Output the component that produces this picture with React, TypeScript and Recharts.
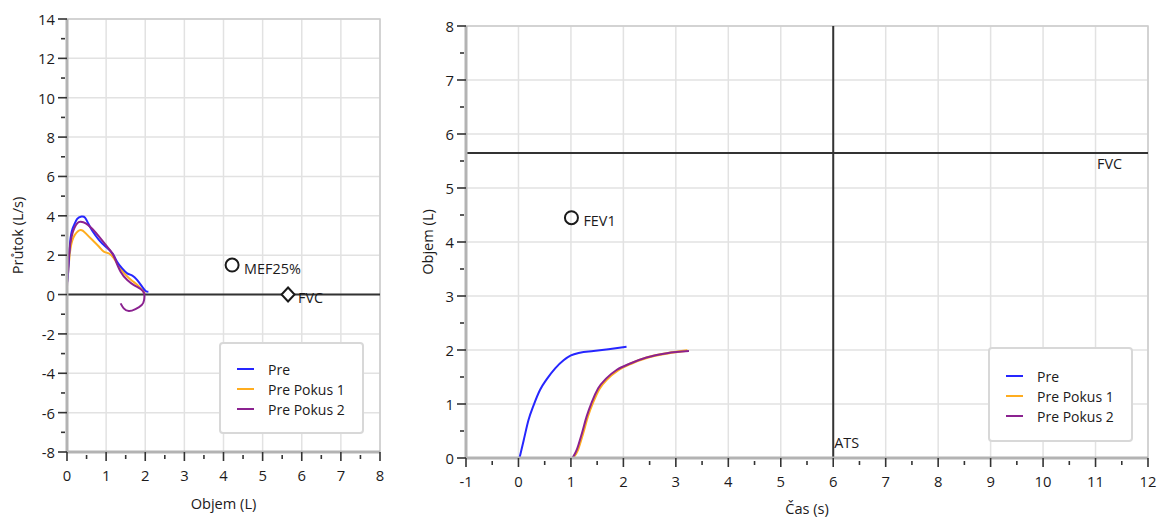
import React from 'react';
import {
  ComposedChart,
  Line,
  Scatter,
  XAxis,
  YAxis,
  CartesianGrid,
  ReferenceLine,
  ReferenceArea,
  Legend,
} from 'recharts';

const FONT = '"Open Sans", "Noto Sans", sans-serif';
const TEXT = '#1c1a1b';
const AXIS = '#b3b3b3';
const GRID = '#e2e2e2';
const TICK = '#333333';

// ---- series ----
const seriesNames = ['Pre', 'Pre Pokus 1', 'Pre Pokus 2'];
const seriesColors = ['#2626ff', '#ffad1f', '#8b2290'];

// flow-volume (left)
const flowPre = [
  { x: 0, y: 0.6 }, { x: 0.03, y: 1.16 }, { x: 0.09, y: 2.85 }, { x: 0.18, y: 3.53 },
  { x: 0.26, y: 3.84 }, { x: 0.37, y: 3.96 }, { x: 0.46, y: 3.91 }, { x: 0.54, y: 3.62 },
  { x: 0.65, y: 3.23 }, { x: 0.82, y: 2.77 }, { x: 0.99, y: 2.43 }, { x: 1.16, y: 2.09 },
  { x: 1.28, y: 1.67 }, { x: 1.41, y: 1.33 }, { x: 1.54, y: 1.08 }, { x: 1.67, y: 0.96 },
  { x: 1.79, y: 0.74 }, { x: 1.92, y: 0.4 }, { x: 2.01, y: 0.18 }, { x: 2.08, y: 0.14 },
];
const flowPokus1 = [
  { x: 0, y: 0.6 }, { x: 0.03, y: 1.16 }, { x: 0.09, y: 2.35 }, { x: 0.2, y: 3.03 },
  { x: 0.35, y: 3.28 }, { x: 0.48, y: 3.11 }, { x: 0.65, y: 2.77 }, { x: 0.82, y: 2.43 },
  { x: 0.94, y: 2.18 }, { x: 1.07, y: 2.09 }, { x: 1.2, y: 1.84 }, { x: 1.33, y: 1.42 },
  { x: 1.5, y: 1.0 }, { x: 1.67, y: 0.69 }, { x: 1.82, y: 0.45 }, { x: 1.94, y: 0.18 },
  { x: 1.99, y: 0.06 },
];
const flowPokus2 = [
  { x: 0, y: 0.4 }, { x: 0.05, y: 2.0 }, { x: 0.14, y: 3.11 }, { x: 0.26, y: 3.62 },
  { x: 0.35, y: 3.7 }, { x: 0.48, y: 3.62 }, { x: 0.65, y: 3.33 }, { x: 0.82, y: 2.94 },
  { x: 0.99, y: 2.52 }, { x: 1.16, y: 2.09 }, { x: 1.24, y: 1.75 }, { x: 1.37, y: 1.16 },
  { x: 1.54, y: 0.74 }, { x: 1.71, y: 0.48 }, { x: 1.88, y: 0.28 }, { x: 1.97, y: 0.06 },
  { x: 1.97, y: -0.28 }, { x: 1.91, y: -0.53 }, { x: 1.75, y: -0.74 }, { x: 1.58, y: -0.84 },
  { x: 1.45, y: -0.7 }, { x: 1.37, y: -0.45 },
];

// volume-time (right)
const volPre = [
  { x: 0.02, y: 0 }, { x: 0.1, y: 0.33 }, { x: 0.19, y: 0.7 }, { x: 0.29, y: 0.98 },
  { x: 0.41, y: 1.26 }, { x: 0.54, y: 1.46 }, { x: 0.7, y: 1.66 }, { x: 0.86, y: 1.81 },
  { x: 1.0, y: 1.9 }, { x: 1.17, y: 1.95 }, { x: 1.43, y: 1.98 }, { x: 1.75, y: 2.02 },
  { x: 2.06, y: 2.06 },
];
const volPokus1 = [
  { x: 1.04, y: 0 }, { x: 1.13, y: 0.15 }, { x: 1.23, y: 0.46 }, { x: 1.32, y: 0.77 },
  { x: 1.42, y: 1.03 }, { x: 1.54, y: 1.28 }, { x: 1.7, y: 1.47 }, { x: 1.89, y: 1.62 },
  { x: 2.15, y: 1.75 }, { x: 2.46, y: 1.86 }, { x: 2.85, y: 1.94 }, { x: 3.22, y: 1.99 },
];
const volPokus2 = [
  { x: 1.03, y: 0 }, { x: 1.11, y: 0.15 }, { x: 1.21, y: 0.46 }, { x: 1.3, y: 0.77 },
  { x: 1.4, y: 1.04 }, { x: 1.52, y: 1.29 }, { x: 1.68, y: 1.48 }, { x: 1.87, y: 1.63 },
  { x: 2.13, y: 1.75 }, { x: 2.44, y: 1.86 }, { x: 2.83, y: 1.94 }, { x: 3.25, y: 1.98 },
];

// markers
const flowMarkers = [
  { x: 4.22, y: 1.5, label: 'MEF25%', kind: 'circle' },
  { x: 5.65, y: 0, label: 'FVC', kind: 'diamond' },
];
const volMarkers = [{ x: 1.01, y: 4.45, label: 'FEV1', kind: 'circle' }];
const flowZeroLine = 0;
const fvcVolume = 5.65;
const atsTime = 6;

// ---- ticks ----
const flowXDomain = [0, 8];
const flowYDomain = [-8, 14];
const flowXTicks = [0, 0.5, 1, 1.5, 2, 2.5, 3, 3.5, 4, 4.5, 5, 5.5, 6, 6.5, 7, 7.5, 8];
const flowXMajor = [0, 1, 2, 3, 4, 5, 6, 7, 8];
const flowYTicks = [-8, -7, -6, -5, -4, -3, -2, -1, 0, 1, 2, 3, 4, 5, 6, 7, 8, 9, 10, 11, 12, 13, 14];
const flowYMajor = [-8, -6, -4, -2, 0, 2, 4, 6, 8, 10, 12, 14];

const timeXDomain = [-1, 12];
const volYDomain = [0, 8];
const timeXTicks = [-1, -0.5, 0, 0.5, 1, 1.5, 2, 2.5, 3, 3.5, 4, 4.5, 5, 5.5, 6, 6.5, 7, 7.5, 8, 8.5, 9, 9.5, 10, 10.5, 11, 11.5, 12];
const timeXMajor = [-1, 0, 1, 2, 3, 4, 5, 6, 7, 8, 9, 10, 11, 12];
const volYTicks = [0, 0.5, 1, 1.5, 2, 2.5, 3, 3.5, 4, 4.5, 5, 5.5, 6, 6.5, 7, 7.5, 8];
const volYMajor = [0, 1, 2, 3, 4, 5, 6, 7, 8];

const TICK_FONT = 14.8;
const TITLE_FONT = 14.6;
const LABEL_FONT = 14.4;

// ---- helpers ----
const makeXTick = (major: number[]) => (props: any) => {
  const { x, y, payload } = props;
  const isMajor = major.includes(payload.value);
  return (
    <g>
      <line x1={x} x2={x} y1={y + (isMajor ? 0 : 3)} y2={y + (isMajor ? 9 : 7)} stroke={TICK} strokeWidth={1.6} />
      {isMajor && (
        <text x={x} y={y + 23} textAnchor="middle" dominantBaseline="central" fill={TEXT} fontSize={TICK_FONT} fontFamily={FONT}>
          {String(payload.value)}
        </text>
      )}
    </g>
  );
};

const makeYTick = (major: number[]) => (props: any) => {
  const { x, y, payload } = props;
  const isMajor = major.includes(payload.value);
  return (
    <g>
      <line x1={x - (isMajor ? 9 : 6)} x2={x - (isMajor ? 0 : 2)} y1={y} y2={y} stroke={TICK} strokeWidth={1.6} />
      {isMajor && (
        <text x={x - 12} y={y} textAnchor="end" dominantBaseline="central" fill={TEXT} fontSize={TICK_FONT} fontFamily={FONT}>
          {String(payload.value)}
        </text>
      )}
    </g>
  );
};

const gridX = (values: number[], domain: number[]) => (p: any) =>
  values.map((v) => {
    const s = p?.xAxis?.scale;
    if (typeof s === 'function') return s(v);
    return p.offset.left + ((v - domain[0]) / (domain[1] - domain[0])) * p.offset.width;
  });

const gridY = (values: number[], domain: number[]) => (p: any) =>
  values.map((v) => {
    const s = p?.yAxis?.scale;
    if (typeof s === 'function') return s(v);
    return p.offset.top + ((domain[1] - v) / (domain[1] - domain[0])) * p.offset.height;
  });

const MarkerShape = (props: any) => {
  const { cx, cy, payload } = props;
  if (cx == null || cy == null) return <g />;
  const circle = payload.kind === 'circle';
  return (
    <g>
      {circle ? (
        <circle cx={cx} cy={cy} r={6.5} fill="none" stroke="#1a1a1a" strokeWidth={2} />
      ) : (
        <polygon
          points={`${cx},${cy - 7} ${cx + 6.5},${cy} ${cx},${cy + 7} ${cx - 6.5},${cy}`}
          fill="#ffffff"
          stroke="#1a1a1a"
          strokeWidth={2}
        />
      )}
      <text
        x={cx + (circle ? 12 : 10)}
        y={cy + 3}
        dominantBaseline="central"
        fill={TEXT}
        fontSize={LABEL_FONT}
        fontFamily={FONT}
      >
        {payload.label}
      </text>
    </g>
  );
};

const LegendBox = ({ height, firstRow }: { height: number; firstRow: number }) => (
  <div
    style={{
      position: 'relative',
      width: 145,
      height,
      border: '2px solid #d8d8d8',
      borderRadius: 4,
      background: '#ffffff',
      boxSizing: 'border-box',
      fontFamily: FONT,
      fontSize: 14,
      color: TEXT,
    }}
  >
    {seriesNames.map((name, i) => (
      <div
        key={name}
        style={{ position: 'absolute', left: 0, top: firstRow - 2 + i * 20 - 10, height: 20, display: 'flex', alignItems: 'center' }}
      >
        <span style={{ display: 'inline-block', marginLeft: 16, width: 17, height: 2, background: seriesColors[i] }} />
        <span style={{ marginLeft: 14, whiteSpace: 'nowrap' }}>{name}</span>
      </div>
    ))}
  </div>
);

const titleStyle = { fill: TEXT, fontSize: TITLE_FONT, fontFamily: FONT };

const FlowChart = () => (
  <ComposedChart width={400} height={519} margin={{ top: 19, right: 20, bottom: 27, left: 20 }}>
    <CartesianGrid
      stroke={GRID}
      strokeWidth={1.5}
      verticalCoordinatesGenerator={gridX(flowXMajor, flowXDomain)}
      horizontalCoordinatesGenerator={gridY(flowYMajor, flowYDomain)}
    />
    <ReferenceArea x1={flowXDomain[0]} x2={flowXDomain[1]} y1={flowYDomain[0]} y2={flowYDomain[1]} fill="none" fillOpacity={0} stroke="#cccccc" strokeWidth={1.5} />
    <XAxis
      type="number"
      dataKey="x"
      domain={flowXDomain}
      ticks={flowXTicks}
      interval={0}
      allowDataOverflow
      height={40}
      tickSize={0}
      tickMargin={0}
      tickLine={false}
      axisLine={{ stroke: AXIS, strokeWidth: 3 }}
      tick={makeXTick(flowXMajor)}
      label={{ value: 'Objem (L)', position: 'bottom', offset: 7, ...titleStyle }}
    />
    <YAxis
      type="number"
      dataKey="y"
      domain={flowYDomain}
      ticks={flowYTicks}
      interval={0}
      allowDataOverflow
      width={47}
      tickSize={0}
      tickMargin={0}
      tickLine={false}
      axisLine={{ stroke: AXIS, strokeWidth: 3 }}
      tick={makeYTick(flowYMajor)}
      label={{ value: 'Průtok (L/s)', angle: -90, position: 'insideLeft', offset: -2, style: { textAnchor: 'middle' }, ...titleStyle }}
    />
    <ReferenceLine y={flowZeroLine} stroke="#333333" strokeWidth={2} />
    <Line data={flowPokus1} dataKey="y" type="natural" stroke={seriesColors[1]} strokeWidth={2} dot={false} activeDot={false} isAnimationActive={false} />
    <Line data={flowPre} dataKey="y" type="natural" stroke={seriesColors[0]} strokeWidth={2} dot={false} activeDot={false} isAnimationActive={false} />
    <Line data={flowPokus2} dataKey="y" type="natural" stroke={seriesColors[2]} strokeWidth={2} dot={false} activeDot={false} isAnimationActive={false} />
    <Scatter data={flowMarkers} dataKey="y" shape={MarkerShape} isAnimationActive={false} legendType="none" />
    <Legend
      layout="vertical"
      align="center"
      verticalAlign="middle"
      wrapperStyle={{ left: 219, top: 342, width: 145, height: 92 }}
      content={() => <LegendBox height={92} firstRow={27} />}
    />
  </ComposedChart>
);

const VolumeChart = () => (
  <ComposedChart width={759} height={519} margin={{ top: 26, right: 11, bottom: 21, left: 26 }}>
    <CartesianGrid
      stroke={GRID}
      strokeWidth={1.5}
      verticalCoordinatesGenerator={gridX(timeXMajor, timeXDomain)}
      horizontalCoordinatesGenerator={gridY(volYMajor, volYDomain)}
    />
    <ReferenceArea x1={timeXDomain[0]} x2={timeXDomain[1]} y1={volYDomain[0]} y2={volYDomain[1]} fill="none" fillOpacity={0} stroke="#cccccc" strokeWidth={1.5} />
    <XAxis
      type="number"
      dataKey="x"
      domain={timeXDomain}
      ticks={timeXTicks}
      interval={0}
      allowDataOverflow
      height={40}
      tickSize={0}
      tickMargin={0}
      tickLine={false}
      axisLine={{ stroke: AXIS, strokeWidth: 3 }}
      tick={makeXTick(timeXMajor)}
      label={{ value: 'Čas (s)', position: 'bottom', offset: 6, ...titleStyle }}
    />
    <YAxis
      type="number"
      dataKey="y"
      domain={volYDomain}
      ticks={volYTicks}
      interval={0}
      allowDataOverflow
      width={40}
      tickSize={0}
      tickMargin={0}
      tickLine={false}
      axisLine={{ stroke: AXIS, strokeWidth: 3 }}
      tick={makeYTick(volYMajor)}
      label={{ value: 'Objem (L)', angle: -90, position: 'insideLeft', offset: 1.5, style: { textAnchor: 'middle' }, ...titleStyle }}
    />
    <ReferenceLine
      x={atsTime}
      stroke="#333333"
      strokeWidth={2}
      label={(p: any) => (
        <text x={p.viewBox.x + 1} y={p.viewBox.y + p.viewBox.height - 16} dominantBaseline="central" fill={TEXT} fontSize={LABEL_FONT} fontFamily={FONT}>
          ATS
        </text>
      )}
    />
    <ReferenceLine
      y={fvcVolume}
      stroke="#333333"
      strokeWidth={2}
      label={(p: any) => (
        <text x={p.viewBox.x + p.viewBox.width - 51} y={p.viewBox.y + 11} dominantBaseline="central" fill={TEXT} fontSize={LABEL_FONT} fontFamily={FONT}>
          FVC
        </text>
      )}
    />
    <Line data={volPre} dataKey="y" type="monotone" stroke={seriesColors[0]} strokeWidth={2} dot={false} activeDot={false} isAnimationActive={false} />
    <Line data={volPokus1} dataKey="y" type="monotone" stroke={seriesColors[1]} strokeWidth={2.5} dot={false} activeDot={false} isAnimationActive={false} />
    <Line data={volPokus2} dataKey="y" type="monotone" stroke={seriesColors[2]} strokeWidth={2} dot={false} activeDot={false} isAnimationActive={false} />
    <Scatter data={volMarkers} dataKey="y" shape={MarkerShape} isAnimationActive={false} legendType="none" />
    <Legend
      layout="vertical"
      align="center"
      verticalAlign="middle"
      wrapperStyle={{ left: 588, top: 347, width: 145, height: 95 }}
      content={() => <LegendBox height={95} firstRow={29} />}
    />
  </ComposedChart>
);

export default function App() {
  return (
    <div style={{ position: 'absolute', left: 0, top: 0, width: 1159, height: 519, background: '#ffffff', fontFamily: FONT }}>
      <div style={{ position: 'absolute', left: 0, top: 0 }}>
        <FlowChart />
      </div>
      <div style={{ position: 'absolute', left: 400, top: 0 }}>
        <VolumeChart />
      </div>
    </div>
  );
}
